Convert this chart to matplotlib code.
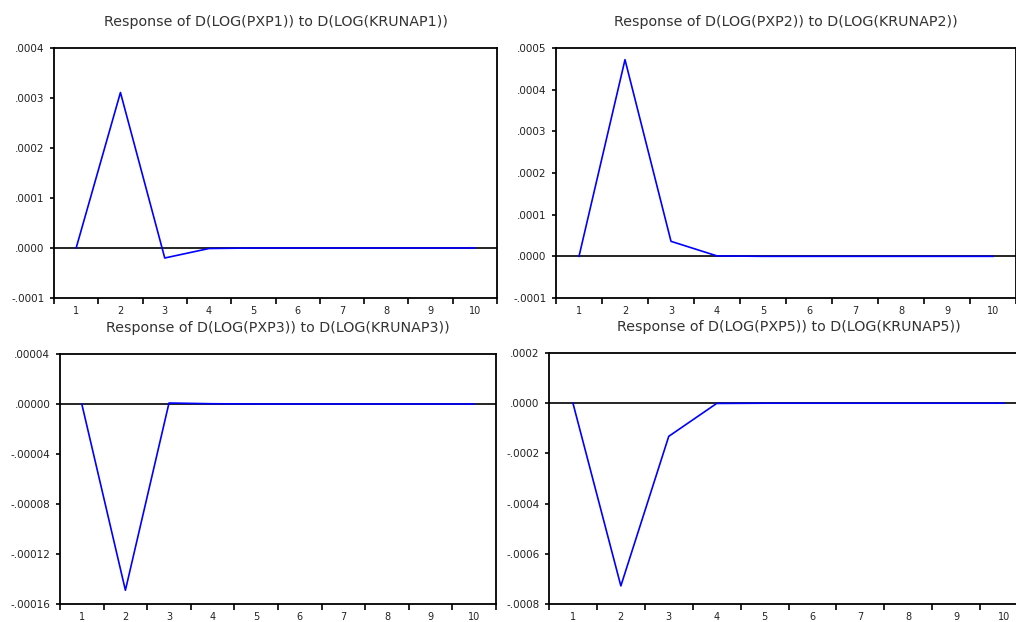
import numpy as np
import matplotlib
matplotlib.use("Agg")
import matplotlib.pyplot as plt

# impulse response periods
periods = np.arange(1, 11)

# responses
resp_p1 = [0.0, 0.000311, -0.000020, -0.000001, 0, 0, 0, 0, 0, 0]
resp_p2 = [0.0, 0.000472, 0.000036, 0.000001, 0, 0, 0, 0, 0, 0]
resp_p3 = [0.0, -0.000149, 0.0000008, 0.0000002, 0, 0, 0, 0, 0, 0]
resp_p5 = [0.0, -0.000728, -0.000132, -0.000001, 0, 0, 0, 0, 0, 0]

titles = [
    "Response of D(LOG(PXP1)) to D(LOG(KRUNAP1))",
    "Response of D(LOG(PXP2)) to D(LOG(KRUNAP2))",
    "Response of D(LOG(PXP3)) to D(LOG(KRUNAP3))",
    "Response of D(LOG(PXP5)) to D(LOG(KRUNAP5))",
]

yticks_p1 = [-0.0001, 0.0, 0.0001, 0.0002, 0.0003, 0.0004]
ylabels_p1 = ["-.0001", ".0000", ".0001", ".0002", ".0003", ".0004"]
yticks_p2 = [-0.0001, 0.0, 0.0001, 0.0002, 0.0003, 0.0004, 0.0005]
ylabels_p2 = ["-.0001", ".0000", ".0001", ".0002", ".0003", ".0004", ".0005"]
yticks_p3 = [-0.00016, -0.00012, -0.00008, -0.00004, 0.0, 0.00004]
ylabels_p3 = ["-.00016", "-.00012", "-.00008", "-.00004", ".00000", ".00004"]
yticks_p5 = [-0.0008, -0.0006, -0.0004, -0.0002, 0.0, 0.0002]
ylabels_p5 = ["-.0008", "-.0006", "-.0004", "-.0002", ".0000", ".0002"]

W, H = 1016, 622
fig = plt.figure(figsize=(W / 100, H / 100), dpi=100)
fig.patch.set_facecolor("white")

# axes boxes in pixels: left, top, right, bottom
boxes = [(54, 48, 497, 298), (556, 48, 1016, 298),
         (60, 354, 496, 604), (549, 353, 1028, 604)]
series = [resp_p1, resp_p2, resp_p3, resp_p5]
ticks = [(yticks_p1, ylabels_p1), (yticks_p2, ylabels_p2),
         (yticks_p3, ylabels_p3), (yticks_p5, ylabels_p5)]

font = "DejaVu Sans"

for (l, t, r, b), vals, (yt, yl), title in zip(boxes, series, ticks, titles):
    ax = fig.add_axes([l / W, (H - b) / H, (r - l) / W, (b - t) / H])
    ax.axhline(0, color="black", lw=1.2, zorder=1)
    ax.plot(periods, vals, color="#0000ff", lw=1.2, zorder=2)
    ax.set_xlim(0.5, 10.5)
    ax.set_ylim(yt[0], yt[-1])
    ax.set_xticks(periods)
    ax.set_xticklabels([str(p) for p in periods], fontsize=7, family=font,
                       color="#222222")
    ax.set_xticks(np.arange(0.5, 11, 1.0), minor=True)
    ax.tick_params(axis="x", which="major", length=0, pad=6)
    ax.tick_params(axis="x", which="minor", length=4, width=1.2, direction="out")
    ax.set_yticks(yt)
    ax.set_yticklabels(yl, fontsize=7.5, family=font, color="#222222")
    ax.tick_params(axis="y", length=3, width=1.2, direction="out", pad=4)
    for s in ax.spines.values():
        s.set_linewidth(1.3)
        s.set_color("black")
    ax.set_title(title, fontsize=10.3, family=font, color="#333333", pad=16)

fig.savefig("out.png", dpi=100)
